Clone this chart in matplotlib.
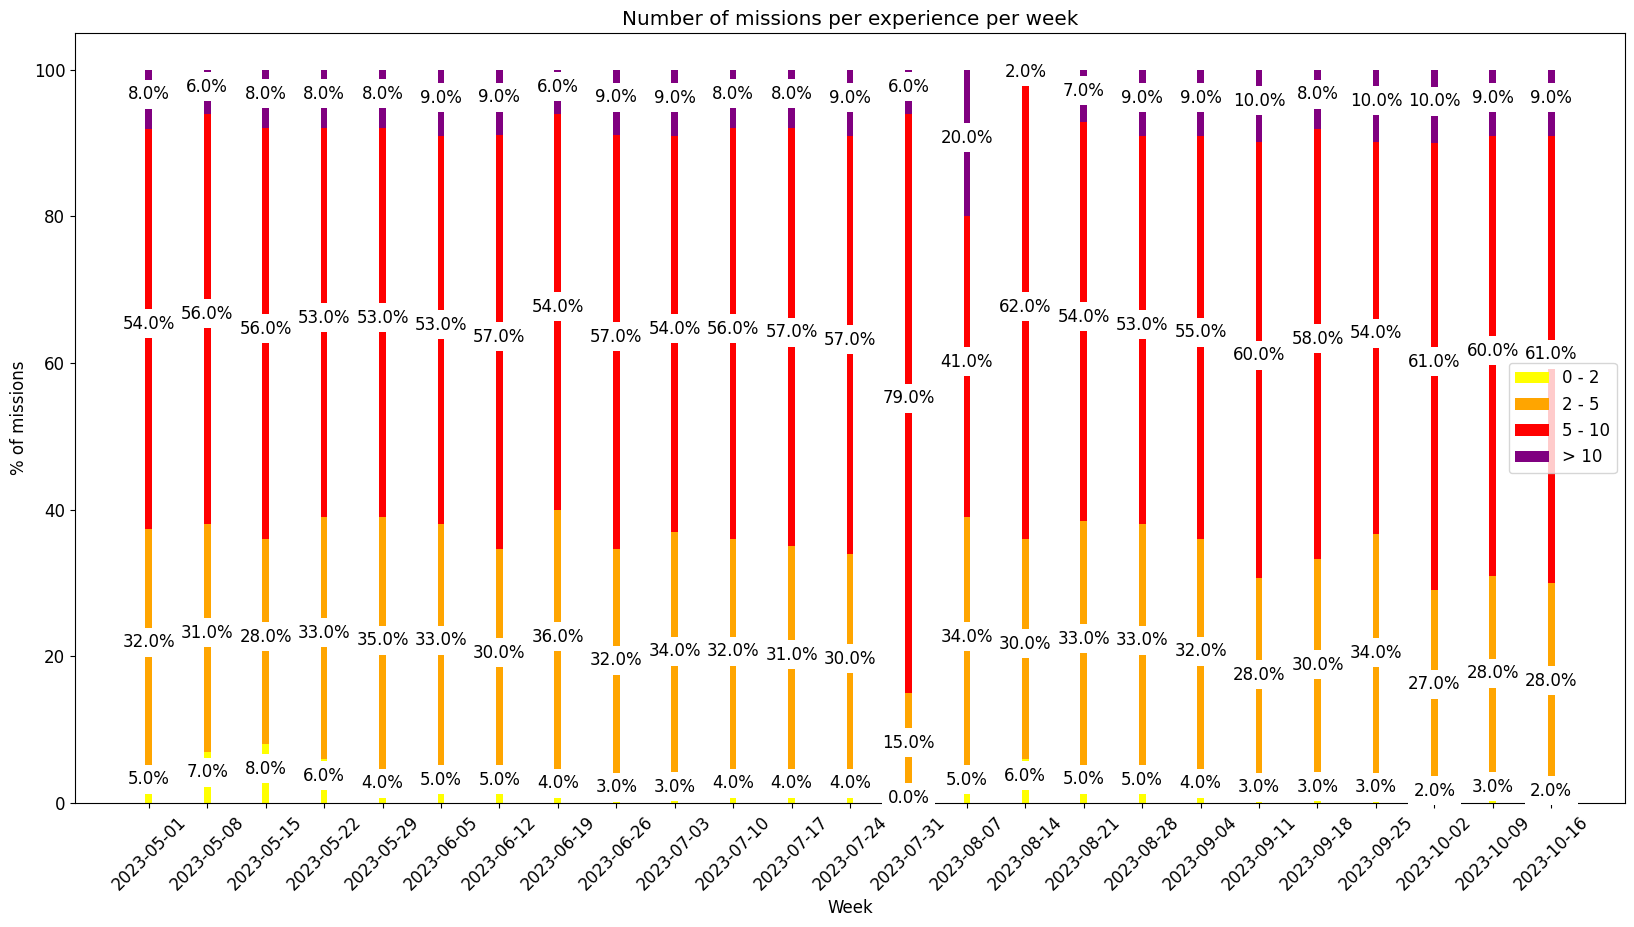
import matplotlib
matplotlib.use('Agg')
import matplotlib.pyplot as plt
import numpy as np
import pandas as pd

weeks = ['2023-05-01', '2023-05-08', '2023-05-15', '2023-05-22', '2023-05-29',
         '2023-06-05', '2023-06-12', '2023-06-19', '2023-06-26', '2023-07-03',
         '2023-07-10', '2023-07-17', '2023-07-24', '2023-07-31', '2023-08-07',
         '2023-08-14', '2023-08-21', '2023-08-28', '2023-09-04', '2023-09-11',
         '2023-09-18', '2023-09-25', '2023-10-02', '2023-10-09', '2023-10-16']

# % of missions per experience bucket (rounded, as labelled)
exp_0_2 = [5, 7, 8, 6, 4, 5, 5, 4, 3, 3, 4, 4, 4, 0, 5, 6, 5, 5, 4, 3, 3, 3, 2, 3, 2]
exp_2_5 = [32, 31, 28, 33, 35, 33, 30, 36, 32, 34, 32, 31, 30, 15, 34, 30, 33, 33, 32, 28, 30, 34, 27, 28, 28]
exp_5_10 = [54, 56, 56, 53, 53, 53, 57, 54, 57, 54, 56, 57, 57, 79, 41, 62, 54, 53, 55, 60, 58, 54, 61, 60, 61]
exp_10_plus = [8, 6, 8, 8, 8, 9, 9, 6, 9, 9, 8, 8, 9, 6, 20, 2, 7, 9, 9, 10, 8, 10, 10, 9, 9]

labels = ['0 - 2', '2 - 5', '5 - 10', '> 10']
colors = ['yellow', 'orange', 'red', 'purple']
series = [exp_0_2, exp_2_5, exp_5_10, exp_10_plus]

dates = pd.to_datetime(weeks)
# bars stack to exactly 100 %, labels keep the rounded numbers
total = np.sum(np.array(series, dtype=float), axis=0)

plt.rcParams['font.size'] = 12
fig, ax = plt.subplots(figsize=(16.34, 9.27), dpi=100)

bottom = np.zeros(len(weeks))
for vals, lab, col in zip(series, labels, colors):
    heights = np.array(vals, dtype=float) / total * 100
    ax.bar(dates, heights, bottom=bottom, label=lab, color=col)
    for d, v, h, b in zip(dates, vals, heights, bottom):
        ax.text(d, b + h / 2, '%.1f%%' % v, ha='center',
                bbox=dict(facecolor='white', edgecolor='none'))
    bottom += heights

ax.set_title('Number of missions per experience per week')
ax.set_xlabel('Week')
ax.set_ylabel('% of missions')
ax.set_xticks(dates)
ax.set_xticklabels(weeks, rotation=45)
ax.legend(loc='center right')

fig.subplots_adjust(left=0.0459, right=0.9945, top=0.9644, bottom=0.1338)
fig.savefig('out.png')
